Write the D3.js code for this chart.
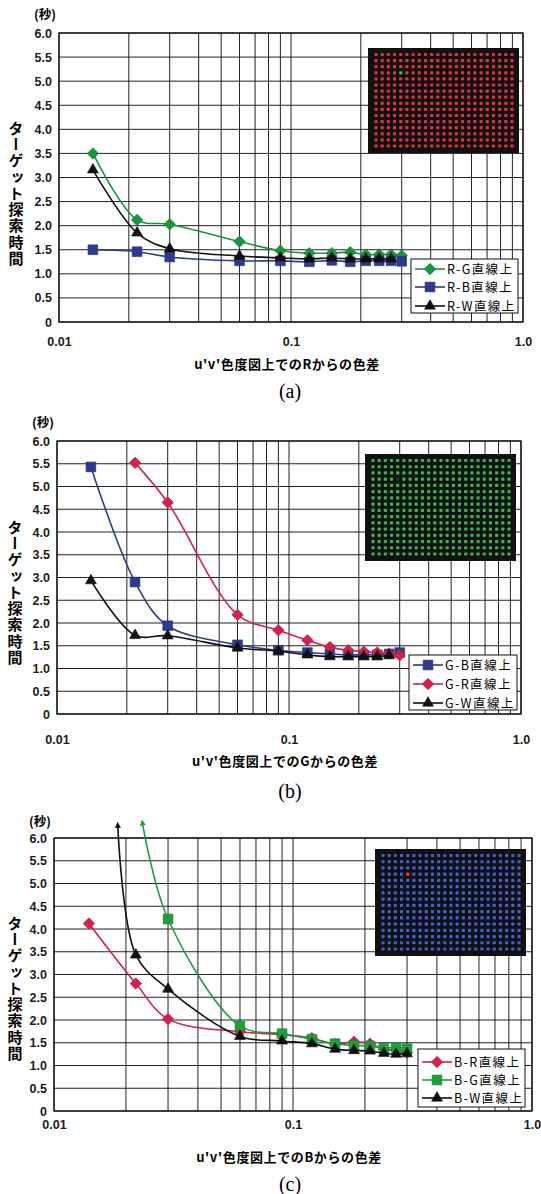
<!DOCTYPE html>
<html>
<head>
<meta charset="utf-8">
<script src="https://cdn.jsdelivr.net/npm/d3@7"></script>
<style>
  body { margin: 0; background: #fff; }
  svg { display: block; }
</style>
</head>
<body>
<div id="chart"></div>
<script>
// ----------------------------------------------------------------- Data
var xTickValues = [0.01, 0.1, 1.0];
var xTickLabels = ['0.01', '0.1', '1.0'];
var yTickValues = [0, 0.5, 1.0, 1.5, 2.0, 2.5, 3.0, 3.5, 4.0, 4.5, 5.0, 5.5, 6.0];
var yTickLabels = ['0', '0.5', '1.0', '1.5', '2.0', '2.5', '3.0', '3.5', '4.0', '4.5', '5.0', '5.5', '6.0'];
var yTitle      = 'ターゲット探索時間';
var yUnit       = '(秒)';

// (a) target R
var aNames = ['R-G直線上', 'R-B直線上', 'R-W直線上'];
var aRG_x  = [0.014, 0.0217, 0.03, 0.06, 0.09, 0.12, 0.15, 0.18, 0.21, 0.24, 0.27, 0.30];
var aRG_y  = [3.50, 2.12, 2.03, 1.67, 1.48, 1.43, 1.43, 1.45, 1.40, 1.40, 1.40, 1.38];
var aRB_x  = [0.014, 0.0217, 0.03, 0.06, 0.09, 0.12, 0.15, 0.18, 0.21, 0.24, 0.27, 0.30];
var aRB_y  = [1.50, 1.46, 1.35, 1.27, 1.27, 1.25, 1.28, 1.25, 1.27, 1.27, 1.27, 1.26];
var aRW_x  = [0.014, 0.0217, 0.03, 0.06, 0.09, 0.12, 0.15, 0.18, 0.21, 0.24, 0.27];
var aRW_y  = [3.16, 1.85, 1.52, 1.37, 1.33, 1.31, 1.33, 1.31, 1.31, 1.31, 1.31];
var aXTitle = 'u\'v\'色度図上でのRからの色差';

// (b) target G
var bNames = ['G-B直線上', 'G-R直線上', 'G-W直線上'];
var bGB_x  = [0.014, 0.0217, 0.03, 0.06, 0.09, 0.12, 0.15, 0.18, 0.21, 0.24, 0.27, 0.30];
var bGB_y  = [5.43, 2.90, 1.94, 1.52, 1.40, 1.35, 1.32, 1.30, 1.30, 1.30, 1.32, 1.35];
var bGR_x  = [0.0217, 0.03, 0.06, 0.09, 0.12, 0.15, 0.18, 0.21, 0.24, 0.27, 0.30];
var bGR_y  = [5.52, 4.65, 2.18, 1.84, 1.62, 1.47, 1.40, 1.37, 1.35, 1.33, 1.29];
var bGW_x  = [0.014, 0.0217, 0.03, 0.06, 0.09, 0.12, 0.15, 0.18, 0.21, 0.24, 0.27];
var bGW_y  = [2.93, 1.73, 1.72, 1.45, 1.38, 1.30, 1.26, 1.26, 1.26, 1.26, 1.29];
var bXTitle = 'u\'v\'色度図上でのGからの色差';

// (c) target B   (curves B-G and B-W run off the top, shown with an arrow tip)
var cNames = ['B-R直線上', 'B-G直線上', 'B-W直線上'];
var cBR_x  = [0.014, 0.022, 0.03, 0.06, 0.09, 0.12, 0.15, 0.18, 0.21, 0.24, 0.27, 0.30];
var cBR_y  = [4.12, 2.80, 2.02, 1.74, 1.68, 1.60, 1.47, 1.52, 1.48, 1.36, 1.33, 1.28];
var cBG_x  = [0.03, 0.06, 0.09, 0.12, 0.15, 0.18, 0.21, 0.24, 0.27, 0.30];
var cBG_y  = [4.22, 1.87, 1.70, 1.58, 1.48, 1.44, 1.43, 1.38, 1.40, 1.37];
var cBG_tip = [0.0235, 6.30];
var cBW_x  = [0.022, 0.03, 0.06, 0.09, 0.12, 0.15, 0.18, 0.21, 0.24, 0.27, 0.30];
var cBW_y  = [3.43, 2.68, 1.64, 1.54, 1.48, 1.36, 1.33, 1.32, 1.27, 1.25, 1.26];
var cBW_tip = [0.0185, 6.25];
var cXTitle = 'u\'v\'色度図上でのBからの色差';

var panelLabels = ['(a)', '(b)', '(c)'];
// ---------------------------------------------------------------- /Data

var GREEN = '#16973a', NAVY = '#2c3b8e', RED = '#d3214c', BLACK = '#111';
var LATIN = "'Liberation Sans', Arial, sans-serif";
var CJK   = "'Noto Sans CJK JP', 'Liberation Sans', sans-serif";

var width = 541, height = 1194;

var svg = d3.select('#chart').append('svg')
    .attr('width', width)
    .attr('height', height);

svg.append('rect').attr('width', width).attr('height', height).attr('fill', '#fff');
var defs = svg.append('defs');

function zip(xs, ys) {
  return xs.map(function(x, i) { return {x: x, y: ys[i]}; });
}

var shapes = {
  diamond:  {type: d3.symbolSquare,   size: 66, rotate: 45},
  square:   {type: d3.symbolSquare,   size: 95, rotate: 0},
  triangle: {type: d3.symbolTriangle, size: 52, rotate: 0}
};

var panels = [
  {
    label: panelLabels[0], xTitle: aXTitle,
    left: 59, right: 523, top: 33, bottom: 322,
    unitX: 45, unitY: 19, titleX: 16, titleTop: 128,
    tickDy: 24, xTitleY: 369, labelY: 398,
    inset: {x: 368, y: 48, w: 151, h: 105, dot: '#e0323e', target: '#2fd040'},
    legend: {x: 411, y: 259, w: 107, h: 54, rows: [10, 28, 47]},
    series: [
      {name: aNames[0], data: zip(aRG_x, aRG_y), color: GREEN, shape: 'diamond'},
      {name: aNames[1], data: zip(aRB_x, aRB_y), color: NAVY,  shape: 'square'},
      {name: aNames[2], data: zip(aRW_x, aRW_y), color: BLACK, shape: 'triangle'}
    ]
  },
  {
    label: panelLabels[1], xTitle: bXTitle,
    left: 57, right: 521, top: 441, bottom: 714,
    unitX: 43, unitY: 427, titleX: 15, titleTop: 527,
    tickDy: 30, xTitleY: 766, labelY: 798,
    inset: {x: 365, y: 454, w: 151, h: 107, dot: '#33b84e', target: '#1c2a70'},
    legend: {x: 409, y: 655, w: 108, h: 55, rows: [10, 29, 48]},
    series: [
      {name: bNames[0], data: zip(bGB_x, bGB_y), color: NAVY,  shape: 'square'},
      {name: bNames[1], data: zip(bGR_x, bGR_y), color: RED,   shape: 'diamond'},
      {name: bNames[2], data: zip(bGW_x, bGW_y), color: BLACK, shape: 'triangle'}
    ]
  },
  {
    label: panelLabels[2], xTitle: cXTitle,
    left: 54, right: 532, top: 838, bottom: 1111,
    unitX: 40, unitY: 826, titleX: 15, titleTop: 923,
    tickDy: 18, xTitleY: 1162, labelY: 1191,
    inset: {x: 375, y: 849, w: 151, h: 107, dot: '#3f60d8', target: '#ff3030'},
    legend: {x: 418, y: 1049, w: 107, h: 58, rows: [13, 31, 49]},
    series: [
      {name: cNames[0], data: zip(cBR_x, cBR_y), color: RED,   shape: 'diamond'},
      {name: cNames[1], data: zip(cBG_x, cBG_y), color: '#1f9e3a', shape: 'square',
        tip: {x: cBG_tip[0], y: cBG_tip[1]}},
      {name: cNames[2], data: zip(cBW_x, cBW_y), color: BLACK, shape: 'triangle',
        tip: {x: cBW_tip[0], y: cBW_tip[1]}}
    ]
  }
];

function symbolPath(shape) {
  return d3.symbol().type(shapes[shape].type).size(shapes[shape].size)();
}

function drawMarker(g, shape, color, cx, cy) {
  g.append('path')
    .attr('d', symbolPath(shape))
    .attr('fill', color)
    .attr('stroke', d3.color(color).darker(0.6))
    .attr('stroke-width', 0.6)
    .attr('transform', 'translate(' + cx + ',' + cy + ') rotate(' + shapes[shape].rotate + ')');
}

panels.forEach(function(p) {
  var x = d3.scaleLog().domain([0.01, 1.0]).range([p.left, p.right]);
  var y = d3.scaleLinear().domain([0, 6]).range([p.bottom, p.top]);

  var g = svg.append('g');

  // grid: log minor lines + horizontal lines
  g.append('g').selectAll('line')
      .data(x.ticks())
    .enter().append('line')
      .attr('x1', function(d) { return x(d); })
      .attr('x2', function(d) { return x(d); })
      .attr('y1', p.top).attr('y2', p.bottom)
      .attr('stroke', '#222').attr('stroke-width', 1);

  g.append('g').selectAll('line')
      .data(yTickValues)
    .enter().append('line')
      .attr('x1', p.left).attr('x2', p.right)
      .attr('y1', function(d) { return y(d); })
      .attr('y2', function(d) { return y(d); })
      .attr('stroke', '#222').attr('stroke-width', 1);

  g.append('rect')
      .attr('x', p.left).attr('y', p.top)
      .attr('width', p.right - p.left).attr('height', p.bottom - p.top)
      .attr('fill', 'none').attr('stroke', '#111').attr('stroke-width', 1.3);

  // axes
  var yAxis = d3.axisLeft(y)
      .tickValues(yTickValues)
      .tickFormat(function(d, i) { return yTickLabels[i]; })
      .tickSize(0).tickPadding(7);
  var ya = g.append('g')
      .attr('transform', 'translate(' + p.left + ',0)')
      .call(yAxis);
  ya.select('.domain').remove();
  ya.selectAll('text')
      .style('font-family', LATIN).style('font-size', '12.5px')
      .style('font-weight', 'bold').attr('fill', '#1a1a1a');

  var xAxis = d3.axisBottom(x)
      .tickValues(xTickValues)
      .tickFormat(function(d, i) { return xTickLabels[i]; })
      .tickSize(0).tickPadding(0);
  var xa = g.append('g')
      .attr('transform', 'translate(0,' + p.bottom + ')')
      .call(xAxis);
  xa.select('.domain').remove();
  xa.selectAll('text')
      .attr('y', p.tickDy).attr('dy', 0)
      .style('font-family', LATIN).style('font-size', '12.5px')
      .style('font-weight', 'bold').attr('fill', '#1a1a1a');

  // titles
  g.append('text')
      .attr('x', p.unitX).attr('y', p.unitY)
      .attr('text-anchor', 'middle')
      .style('font-family', CJK).style('font-size', '12.5px').style('font-weight', 'bold')
      .text(yUnit);

  // vertical y title, one glyph per cell so the pitch matches
  g.append('g').selectAll('text')
      .data(yTitle.split(''))
    .enter().append('text')
      .attr('x', p.titleX)
      .attr('y', function(d, i) { return p.titleTop + i * 16.3; })
      .attr('text-anchor', 'middle')
      .attr('dominant-baseline', 'central')
      .style('writing-mode', 'vertical-rl')
      .style('font-family', CJK).style('font-size', '15px').style('font-weight', 'bold')
      .text(function(d) { return d; });

  g.append('text')
      .attr('x', (p.left + p.right) / 2 - 4).attr('y', p.xTitleY)
      .attr('text-anchor', 'middle')
      .style('font-family', CJK).style('font-size', '13px').style('font-weight', 'bold')
      .style('letter-spacing', '0.6px')
      .text(p.xTitle);

  g.append('text')
      .attr('x', 290).attr('y', p.labelY)
      .attr('text-anchor', 'middle')
      .style('font-family', "'Liberation Serif', 'Times New Roman', serif").style('font-size', '20px')
      .text(p.label);

  // inset stimulus picture
  var ins = p.inset;
  g.append('rect')
      .attr('x', ins.x).attr('y', ins.y).attr('width', ins.w).attr('height', ins.h)
      .attr('fill', '#111');
  var cols = 23, rows = 16;
  var dx = d3.scaleLinear().domain([0, cols - 1]).range([ins.x + 8, ins.x + ins.w - 7]);
  var dy = d3.scaleLinear().domain([0, rows - 1]).range([ins.y + 6.5, ins.y + ins.h - 7]);
  var cells = d3.cross(d3.range(cols), d3.range(rows));
  g.append('g').selectAll('rect')
      .data(cells)
    .enter().append('rect')
      .attr('x', function(d) { return dx(d[0]) - 1.6; })
      .attr('y', function(d) { return dy(d[1]) - 1.6; })
      .attr('width', 3.2).attr('height', 3.2).attr('rx', 0.8)
      .attr('fill', function(d) { return (d[0] === 4 && d[1] === 3) ? ins.target : ins.dot; });

  // series
  var line = d3.line()
      .x(function(d) { return x(d.x); })
      .y(function(d) { return y(d.y); })
      .curve(d3.curveCatmullRom.alpha(0.5));

  p.series.forEach(function(s) {
    var pts = s.tip ? [s.tip].concat(s.data) : s.data;
    var path = g.append('path')
        .attr('d', line(pts))
        .attr('fill', 'none')
        .attr('stroke', s.color)
        .attr('stroke-width', 1.6);
    if (s.tip) {
      var id = 'arrow-' + s.color.replace('#', '');
      defs.append('marker')
          .attr('id', id)
          .attr('viewBox', '0 0 10 10')
          .attr('refX', 2).attr('refY', 5)
          .attr('markerWidth', 6).attr('markerHeight', 6)
          .attr('markerUnits', 'userSpaceOnUse')
          .attr('orient', 'auto-start-reverse')
        .append('path')
          .attr('d', 'M0,0 L10,5 L0,10 Z')
          .attr('fill', s.color);
      path.attr('marker-start', 'url(#' + id + ')');
    }
    s.data.forEach(function(d) {
      drawMarker(g, s.shape, s.color, x(d.x), y(d.y));
    });
  });

  // legend
  var L = p.legend;
  var lg = g.append('g');
  lg.append('rect')
      .attr('x', L.x).attr('y', L.y).attr('width', L.w).attr('height', L.h)
      .attr('fill', '#fff').attr('stroke', '#111').attr('stroke-width', 1);
  p.series.forEach(function(s, i) {
    var cy = L.y + L.rows[i];
    lg.append('line')
        .attr('x1', L.x + 4).attr('x2', L.x + 34)
        .attr('y1', cy).attr('y2', cy)
        .attr('stroke', s.color).attr('stroke-width', 1.6);
    drawMarker(lg, s.shape, s.color, L.x + 19, cy);
    lg.append('text')
        .attr('x', L.x + 36).attr('y', cy + 4.5)
        .style('font-family', CJK).style('font-size', '12.5px')
        .style('letter-spacing', '1.4px')
        .text(s.name);
  });
});
</script>
</body>
</html>
